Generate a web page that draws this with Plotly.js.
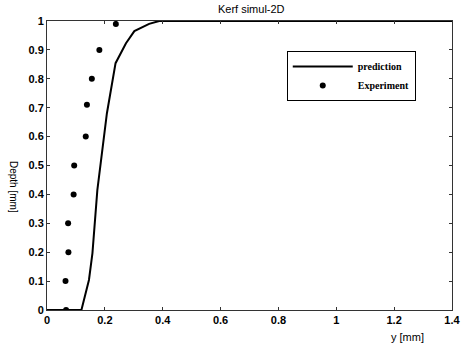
<!DOCTYPE html>
<html>
<head>
<meta charset="utf-8">
<script src="https://cdn.plot.ly/plotly-3.0.1.min.js"></script>
<style>html,body{margin:0;padding:0;background:#fff;}#chart{width:461px;height:350px;}</style>
</head>
<body>
<div id="chart"></div>
<script>
// Prediction curve
const predY = [0, 0.119, 0.145, 0.157, 0.174, 0.207, 0.237, 0.273, 0.302, 0.353, 0.388, 1.4];
const predDepth = [0, 0, 0.104, 0.196, 0.415, 0.68, 0.854, 0.923, 0.965, 0.99, 1.0, 1.0];
// Experiment points
const expY = [0.066, 0.064, 0.074, 0.073, 0.092, 0.094, 0.134, 0.138, 0.155, 0.181, 0.238];
const expDepth = [0, 0.1, 0.2, 0.3, 0.4, 0.5, 0.6, 0.71, 0.8, 0.9, 0.99];
const xTicks = [0, 0.2, 0.4, 0.6, 0.8, 1, 1.2, 1.4];
const yTicks = [0, 0.1, 0.2, 0.3, 0.4, 0.5, 0.6, 0.7, 0.8, 0.9, 1];

const tickFont = {family: 'Liberation Sans, Arial, sans-serif', size: 11, color: '#000', weight: 'bold'};

const data = [
  {x: predY, y: predDepth, mode: 'lines', name: 'prediction',
   line: {color: '#000', width: 2}},
  {x: expY, y: expDepth, mode: 'markers', name: 'Experiment',
   marker: {color: '#000', size: 6, symbol: 'circle'}}
];

const layout = {
  width: 461, height: 350,
  margin: {l: 47, r: 9, t: 21, b: 40},
  paper_bgcolor: '#fff', plot_bgcolor: '#fff',
  showlegend: true,
  title: {text: 'Kerf simul-2D', font: {family: 'Liberation Sans, Arial, sans-serif', size: 11, color: '#000'},
          x: 0.545, xanchor: 'center', y: 0.975, yanchor: 'middle'},
  xaxis: {range: [0, 1.4], tickvals: xTicks, ticktext: xTicks.map(String),
          showgrid: false, zeroline: false, showline: true, linecolor: '#333', linewidth: 1,
          mirror: 'ticks', ticks: 'inside', ticklen: 3, tickcolor: '#333',
          ticklabeloverflow: 'allow', tickfont: tickFont},
  yaxis: {range: [0, 1], tickvals: yTicks, ticktext: yTicks.map(String),
          showgrid: false, zeroline: false, showline: true, linecolor: '#333', linewidth: 1,
          mirror: 'ticks', ticks: 'inside', ticklen: 3, tickcolor: '#333',
          ticklabeloverflow: 'allow', tickfont: tickFont},
  legend: {x: 0.592, y: 0.896, xanchor: 'left', yanchor: 'top',
           bgcolor: '#fff', bordercolor: '#000', borderwidth: 1,
           font: {family: 'Liberation Serif, Times New Roman, serif', size: 10, color: '#000', weight: 'bold'},
           itemwidth: 60, tracegroupgap: 0},
  annotations: [
    {text: 'y [mm]', xref: 'paper', yref: 'paper', x: 0.89, y: -0.095, xanchor: 'center', yanchor: 'middle',
     showarrow: false, font: {family: 'Liberation Sans, Arial, sans-serif', size: 11, color: '#000'}},
    {text: 'Depth [mm]', xref: 'paper', yref: 'paper', x: -0.081, y: 0.425, xanchor: 'center', yanchor: 'middle',
     textangle: 90, showarrow: false, font: {family: 'Liberation Sans, Arial, sans-serif', size: 10, color: '#000'}}
  ]
};

Plotly.newPlot('chart', data, layout, {displayModeBar: false, staticPlot: true});
</script>
</body>
</html>
